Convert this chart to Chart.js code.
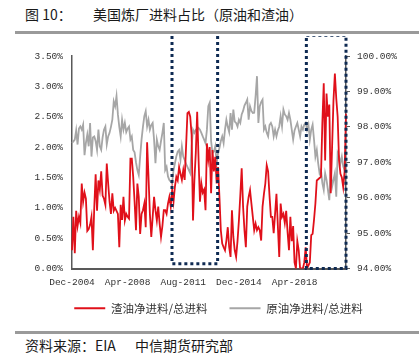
<!DOCTYPE html>
<html>
<head>
<meta charset="utf-8">
<script src="https://cdn.jsdelivr.net/npm/chart.js@4.4.1/dist/chart.umd.min.js"></script>
<style>
  body { margin: 0; background: #fff; width: 419px; height: 353px; overflow: hidden; position: relative; font-family: "Noto Sans CJK SC", sans-serif; }
  .txt { position: absolute; white-space: pre; color: #1a1a1a; }
  .bar { position: absolute; left: 15px; width: 404px; height: 3px; background: #9a9a9a; }
  #chartBox { position: absolute; left: 0; top: 36px; width: 419px; height: 300px; }
</style>
</head>
<body>
<div class="txt" style="left:25px; top:4px; font-size:14px;">图 10：</div>
<div class="txt" style="left:93px; top:4px; font-size:14px;">美国炼厂进料占比（原油和渣油）</div>
<div class="bar" style="top:31px;"></div>
<div class="bar" style="top:331px;"></div>
<div class="txt" style="left:25px; top:335px; font-size:14px;">资料来源：EIA</div>
<div class="txt" style="left:135px; top:335px; font-size:14px;">中信期货研究部</div>
<div id="chartBox"><canvas id="feedChart" width="419" height="300"></canvas></div>

<script>
// monthly data, Dec-2004 .. May-2021
const startYear = 2004;
const startMonth = 11; // December
const monthNames = ['Jan','Feb','Mar','Apr','May','Jun','Jul','Aug','Sep','Oct','Nov','Dec'];

const tickLabels = ['Dec-2004', 'Apr-2008', 'Aug-2011', 'Dec-2014', 'Apr-2018'];

const seriesNames = ['渣油净进料/总进料', '原油净进料/总进料'];

// 渣油净进料/总进料 (%), left axis
const residShare = [
  0.30,0.85,0.25,0.95,0.70,0.85,0.75,1.40,1.10,1.25,
  1.15,0.62,0.65,0.72,0.85,0.30,1.00,1.55,0.95,1.45,
  1.30,1.60,1.20,1.15,1.05,1.73,1.40,1.10,0.90,1.24,
  0.95,1.00,0.95,0.90,0.35,1.05,0.80,1.18,0.79,0.90,
  0.85,0.82,1.81,1.81,1.51,1.10,0.63,1.40,1.18,0.57,
  0.90,0.96,1.07,0.68,2.08,1.51,0.90,0.52,0.85,1.18,
  0.96,0.79,1.02,0.74,0.52,0.70,0.96,0.96,0.90,1.07,
  1.18,1.02,1.29,1.10,1.35,1.51,1.45,1.67,1.56,1.46,
  1.62,1.46,2.00,2.56,2.58,2.50,2.20,0.79,1.46,1.90,
  2.58,1.80,1.10,1.40,1.25,1.30,0.96,2.06,1.80,2.00,
  1.24,1.95,1.60,1.84,1.40,1.67,1.18,0.63,0.41,0.35,
  0.30,0.46,0.68,0.35,0.19,0.96,0.52,0.30,0.19,0.45,
  0.79,1.20,1.65,1.02,0.63,0.35,1.02,1.18,1.29,1.07,
  0.85,0.63,0.74,0.63,0.68,0.63,0.46,1.02,1.23,1.40,
  1.70,1.60,1.20,0.85,0.85,0.58,0.90,1.23,0.70,0.19,
  1.07,0.85,0.90,0.75,0.95,0.60,0.30,0.85,0.45,0.70,
  0.10,0.00,0.45,0.30,0.00,0.00,0.00,0.10,0.35,0.00,
  0.05,0.10,0.55,0.57,0.80,1.07,1.45,1.47,1.49,1.51,
  2.40,3.05,1.78,2.88,2.50,2.70,1.24,2.00,2.77,3.21,
  2.80,2.50,1.78,1.56,1.50,1.34,1.60,2.55
];

// 原油净进料/总进料 (%), right axis
const crudeShare = [
  97.55,97.59,97.64,97.90,97.50,97.95,98.01,97.92,98.06,97.20,
  97.55,97.78,97.45,98.11,97.16,97.70,97.73,97.60,97.35,97.92,
  97.45,97.35,97.70,97.92,98.01,97.50,97.73,97.83,98.00,98.20,
  98.72,98.58,98.87,98.35,98.00,97.73,98.20,97.92,98.11,97.85,
  97.95,98.01,97.64,97.73,97.35,97.28,97.00,96.78,96.64,97.16,
  97.64,98.00,98.30,98.44,98.01,98.20,97.92,98.05,98.11,97.64,
  96.97,97.64,97.45,97.35,97.60,97.83,98.11,96.78,96.87,96.60,
  96.50,96.45,96.41,96.78,96.97,97.16,97.30,97.35,97.07,97.45,
  97.16,97.07,96.95,96.87,96.78,96.69,97.45,97.92,97.83,97.92,
  97.92,97.97,97.92,97.83,97.73,97.64,97.54,97.92,98.58,98.68,
  97.60,97.26,97.30,97.45,96.97,97.26,97.40,97.60,97.73,97.54,
  97.92,98.20,98.00,97.85,98.39,97.92,98.49,98.15,98.11,98.01,
  98.20,98.11,98.35,98.45,98.60,98.68,98.77,98.20,98.58,98.45,
  98.39,98.40,98.87,99.43,98.11,98.58,98.70,98.77,97.92,98.01,
  97.83,97.73,98.05,98.11,98.01,97.73,97.92,97.73,97.90,98.01,
  98.30,98.01,98.49,98.35,98.30,98.20,98.39,98.20,97.92,97.64,
  97.90,98.01,98.11,97.92,97.73,98.01,97.92,98.06,98.11,97.92,
  98.06,97.64,97.92,98.06,97.64,97.16,97.35,96.97,96.69,96.78,
  96.41,96.22,96.69,96.50,96.22,95.93,96.78,96.31,96.50,96.69,
  96.03,97.26,97.16,96.97,97.16,96.88,96.78,96.60
];

// month labels for the category axis
const months = [];
for (let i = 0; i < residShare.length; i++) {
  let m = startMonth + i;
  months.push(monthNames[m % 12] + '-' + (startYear + Math.floor(m / 12)));
}

// the two dotted highlight frames, in axis units (index on x, left-axis % on y)
const highlightFrames = [
  { from: 71.9, to: 104.7, top: 3.87, bottom: 0.08 },
  { from: 168.5, to: 197, top: 3.84, bottom: 0.0 }
];

const tickFont = { family: '"Liberation Mono", monospace', size: 9.5 };
const axisGrey = '#595959';

// draw the dotted frames on top of everything
const framePlugin = {
  id: 'frames',
  afterDraw(chart) {
    let ctx = chart.ctx;
    let xs = chart.scales.x;
    let ys = chart.scales.y;
    ctx.save();
    ctx.strokeStyle = '#0e2a52';
    ctx.lineWidth = 3;
    ctx.setLineDash([3, 3]);
    highlightFrames.forEach(f => {
      let x1 = xs.getPixelForValue(f.from);
      let x2 = xs.getPixelForValue(f.to);
      let y1 = ys.getPixelForValue(f.top);
      let y2 = ys.getPixelForValue(f.bottom);
      ctx.strokeRect(x1, y1, x2 - x1, y2 - y1);
    });
    ctx.restore();
  }
};

// pull the legend up a bit, its padding is also the gap between items
const legendLift = {
  id: 'legendLift',
  afterLayout(chart) {
    chart.legend.top -= 12;
    chart.legend.bottom -= 12;
  }
};

let ctx = document.querySelector('#feedChart').getContext('2d');
new Chart(ctx, {
  type: 'line',
  data: {
    labels: months,
    datasets: [{
      label: seriesNames[0],
      data: residShare,
      yAxisID: 'y',
      borderColor: '#e0101a',
      backgroundColor: '#e0101a',
      borderWidth: 1.8,
      pointRadius: 0,
      tension: 0
    }, {
      label: seriesNames[1],
      data: crudeShare,
      yAxisID: 'y1',
      borderColor: '#a6a6a6',
      backgroundColor: '#a6a6a6',
      borderWidth: 1.8,
      pointRadius: 0,
      tension: 0
    }]
  },
  options: {
    responsive: false,
    animation: false,
    layout: { padding: { left: 18, right: 0, top: 20, bottom: 0 } },
    plugins: {
      tooltip: { enabled: false },
      legend: {
        position: 'bottom',
        labels: {
          usePointStyle: true,
          pointStyle: 'line',
          pointStyleWidth: 31,
          padding: 22,
          color: '#333',
          font: { family: '"Noto Sans CJK SC", sans-serif', size: 11.5 }
        }
      }
    },
    scales: {
      x: {
        grid: { display: false, drawTicks: false },
        border: { display: true, color: axisGrey, width: 2 },
        afterBuildTicks: scale => {
          scale.ticks = scale.ticks.filter(t => tickLabels.includes(months[t.value]));
        },
        afterFit: scale => { scale.height = 24; },
        ticks: {
          autoSkip: false,
          maxRotation: 0,
          minRotation: 0,
          padding: 8,
          color: '#333',
          font: tickFont,
          callback: function(value) { return months[value]; }
        }
      },
      y: {
        position: 'left',
        min: 0,
        max: 3.5,
        grid: { display: false, drawTicks: false },
        border: { display: true, color: axisGrey, width: 1.5 },
        afterFit: scale => { scale.width = 54; },
        ticks: {
          stepSize: 0.5,
          padding: 9,
          color: '#333',
          font: tickFont,
          callback: v => v.toFixed(2) + '%'
        }
      },
      y1: {
        position: 'right',
        min: 94,
        max: 100,
        grid: { drawOnChartArea: false, drawTicks: true, tickLength: 4, color: axisGrey },
        border: { display: true, color: axisGrey, width: 1.5 },
        afterFit: scale => { scale.width = 73; },
        ticks: {
          stepSize: 1,
          padding: 7,
          color: '#333',
          font: tickFont,
          callback: v => v.toFixed(2) + '%'
        }
      }
    }
  },
  plugins: [framePlugin, legendLift]
});
</script>
</body>
</html>
